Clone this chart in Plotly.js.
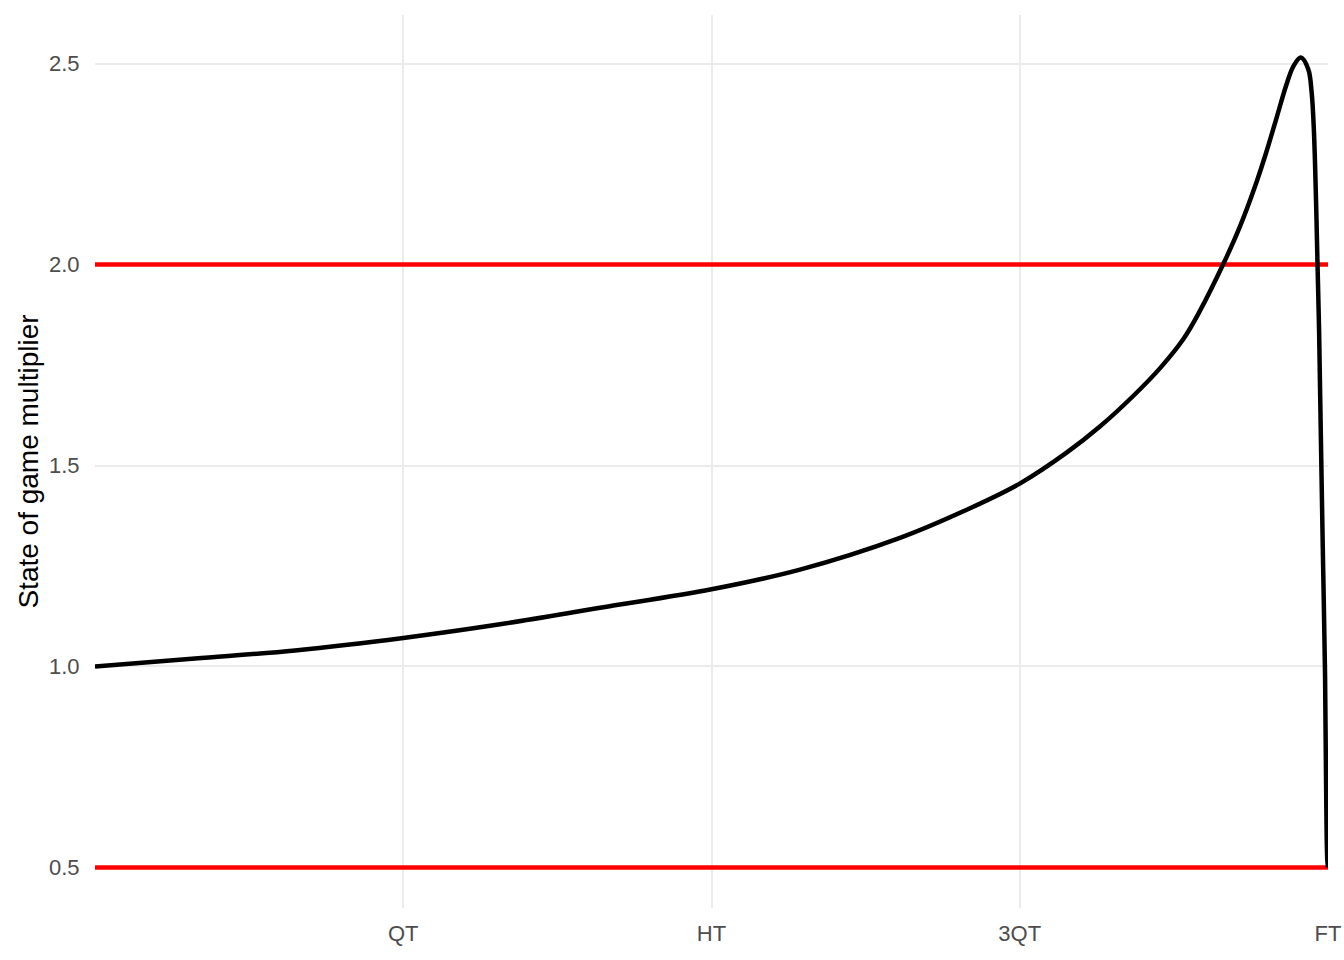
<!DOCTYPE html>
<html>
<head>
<meta charset="utf-8">
<script src="https://cdn.plot.ly/plotly-3.0.1.min.js"></script>
<style>html,body{margin:0;padding:0;background:#fff;}#chart{width:1344px;height:960px;}</style>
</head>
<body>
<div id="chart"></div>
<script>
// minutes of play (80-minute match)
const minutes = [0, 6.49, 12.98, 20, 26.28, 32.77, 40, 45.74, 52.23, 56.56, 60,
  63.04, 65.2, 67.36, 69.12, 70.64, 71.68, 73.19,
  74.29, 75.36, 76, 76.64, 77.28, 77.76, 78.24, 78.72,
  78.94, 79.09, 79.22, 79.32, 79.42, 79.53, 79.66, 79.81, 79.87, 79.95, 80];
const multiplier = [1.000, 1.020, 1.040, 1.071, 1.105, 1.146, 1.192, 1.241, 1.320, 1.390, 1.455,
  1.532, 1.597, 1.673, 1.743, 1.816, 1.884, 2.000,
  2.095, 2.205, 2.280, 2.362, 2.445, 2.494, 2.515, 2.486,
  2.428, 2.329, 2.164, 2.000, 1.840, 1.587, 1.298, 0.976, 0.728, 0.522, 0.500];
const refLevels = [2.0, 0.5];
const xTickVals = [20, 40, 60, 80];
const xTickText = ['QT', 'HT', '3QT', 'FT'];
const yTickVals = [0.5, 1.0, 1.5, 2.0, 2.5];

const traces = refLevels.map(v => ({
  x: [0, 80], y: [v, v], type: 'scatter', mode: 'lines',
  line: {color: '#FF0000', width: 4.5}, hoverinfo: 'skip', showlegend: false
}));
traces.push({
  x: minutes, y: multiplier, type: 'scatter', mode: 'lines',
  line: {color: '#000000', width: 4.5, shape: 'spline', smoothing: 1}, showlegend: false
});

const font = {family: '"Liberation Sans", Arial, sans-serif'};
const layout = {
  width: 1344, height: 960,
  margin: {l: 95, r: 16, t: 15, b: 52},
  paper_bgcolor: '#ffffff', plot_bgcolor: '#ffffff',
  font: font,
  showlegend: false,
  xaxis: {
    range: [0, 80], tickvals: xTickVals, ticktext: xTickText,
    showgrid: true, gridcolor: '#EBEBEB', gridwidth: 2,
    zeroline: false, showline: false,
    ticks: 'outside', ticklen: 6, tickcolor: 'rgba(0,0,0,0)',
    tickfont: {family: font.family, size: 22, color: '#4D4D4D'},
    automargin: false
  },
  yaxis: {
    range: [0.399, 2.621], tickvals: yTickVals, tickformat: '.1f',
    showgrid: true, gridcolor: '#EBEBEB', gridwidth: 2,
    zeroline: false, showline: false,
    ticks: 'outside', ticklen: 10, tickcolor: 'rgba(0,0,0,0)',
    tickfont: {family: font.family, size: 22, color: '#4D4D4D'},
    title: {text: 'State of game multiplier', font: {family: font.family, size: 28, color: '#000000'}, standoff: 2},
    automargin: false
  }
};
Plotly.newPlot('chart', traces, layout, {displayModeBar: false, staticPlot: true});
</script>
</body>
</html>
